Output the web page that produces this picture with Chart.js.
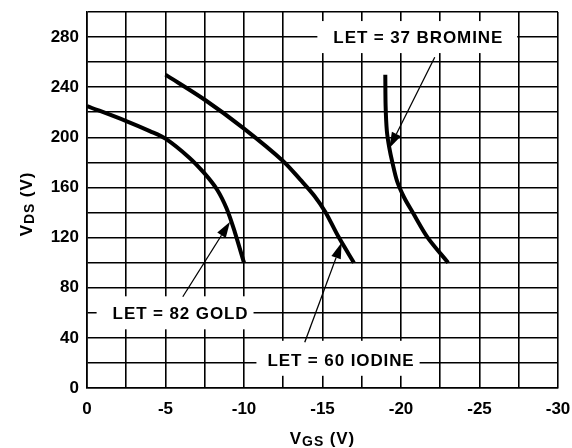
<!DOCTYPE html>
<html>
<head>
<meta charset="utf-8">
<style>
  html, body { margin: 0; padding: 0; background: #fff; }
</style>
</head>
<body>
<canvas id="chart" width="572" height="448"></canvas>
<script src="https://cdn.jsdelivr.net/npm/chart.js@4/dist/chart.umd.min.js"></script>
<script>
// curves: V_GS (x) and V_DS (y)
const goldVgs = [0, -2.5, -4, -5, -6.5, -7.5, -8.3, -8.9, -9.4, -10];
const goldVds = [225, 213, 205, 199, 184, 171, 158, 143, 125, 100];
const iodineVgs = [-5, -7.5, -10, -12.5, -13.6, -14.5, -15.2, -16.0, -17];
const iodineVds = [250, 230, 207, 181, 166, 153, 140, 121, 100];
const bromineVgs = [-19, -19.02, -19.1, -19.25, -19.45, -19.75, -20.2, -20.75, -21.7, -23];
const bromineVds = [250, 225, 205, 192, 180, 165, 152, 140, 120, 100];

const xTickLabels = ['0', '-5', '-10', '-15', '-20', '-25', '-30'];
const yTickLabels = ['0', '40', '80', '120', '160', '200', '240', '280'];

const labelTexts = ['LET = 82 GOLD', 'LET = 60 IODINE', 'LET = 37 BROMINE'];

const font = "'Liberation Sans', Arial, Helvetica, sans-serif";
const spacing = '0.9px';

// where the callouts sit (data coords) and how they look
const notes = [
  { text: labelTexts[0], x: -5.96, y: 60, padL: 16, padR: 5, boxH: 33,
    from: [-6.1, 72.8], to: [-9.11, 132.7] },
  { text: labelTexts[1], x: -16.18, y: 22.5, padL: 11, padR: 5, boxH: 35, boxDy: -1.5,
    from: [-13.87, 36.5], to: [-16.22, 116] },
  { text: labelTexts[2], x: -21.1, y: 280, padL: 16, padR: 14, boxH: 32,
    from: [-22.15, 263.9], to: [-19.25, 191.3] }
];

function pts(xs, ys) {
  return xs.map((x, i) => ({ x: x, y: ys[i] }));
}

function curve(xs, ys) {
  return {
    data: pts(xs, ys),
    borderColor: '#000',
    borderWidth: 4,
    borderCapStyle: 'butt',
    pointRadius: 0,
    tension: 0.3,
    fill: false
  };
}

function arrow(ctx, x1, y1, x2, y2) {
  const a = Math.atan2(y2 - y1, x2 - x1);
  const len = 16, half = 5;
  const bx = x2 - len * Math.cos(a), by = y2 - len * Math.sin(a);
  ctx.beginPath();
  ctx.moveTo(x1, y1);
  ctx.lineTo(bx, by);
  ctx.lineWidth = 1.3;
  ctx.strokeStyle = '#000';
  ctx.stroke();
  ctx.beginPath();
  ctx.moveTo(x2, y2);
  ctx.lineTo(bx + half * Math.sin(a), by - half * Math.cos(a));
  ctx.lineTo(bx - half * Math.sin(a), by + half * Math.cos(a));
  ctx.closePath();
  ctx.fillStyle = '#000';
  ctx.fill();
}

// V + subscript + rest, centred at (cx, baseline)
function subTitle(ctx, main, sub, rest, cx, base) {
  ctx.letterSpacing = spacing;
  ctx.font = 'bold 17px ' + font;
  const w1 = ctx.measureText(main).width;
  const w3 = ctx.measureText(rest).width;
  ctx.font = 'bold 14px ' + font;
  const w2 = ctx.measureText(sub).width;
  let x = cx - (w1 + w2 + w3) / 2;
  ctx.fillStyle = '#000';
  ctx.textAlign = 'left';
  ctx.textBaseline = 'alphabetic';
  ctx.font = 'bold 17px ' + font;
  ctx.fillText(main, x, base);
  x += w1;
  ctx.font = 'bold 14px ' + font;
  ctx.fillText(sub, x, base + 2);
  x += w2;
  ctx.font = 'bold 17px ' + font;
  ctx.fillText(rest, x, base);
}

const callouts = {
  id: 'callouts',
  beforeDatasetsDraw(chart) {
    const ctx = chart.ctx;
    const sx = chart.scales.x, sy = chart.scales.y;
    ctx.save();
    ctx.font = 'bold 17px ' + font;
    ctx.letterSpacing = spacing;
    notes.forEach(n => {
      const cx = sx.getPixelForValue(n.x);
      const cy = sy.getPixelForValue(n.y);
      const w = ctx.measureText(n.text).width;
      const left = cx - w / 2;
      ctx.fillStyle = '#fff';
      ctx.fillRect(left - n.padL, cy - n.boxH / 2 + (n.boxDy || 0), w + n.padL + n.padR, n.boxH);
      ctx.fillStyle = '#000';
      ctx.textAlign = 'left';
      ctx.textBaseline = 'alphabetic';
      ctx.fillText(n.text, left, cy + 6);
    });
    ctx.restore();
  },
  afterDatasetsDraw(chart) {
    const ctx = chart.ctx;
    const sx = chart.scales.x, sy = chart.scales.y;
    ctx.save();
    notes.forEach(n => {
      arrow(ctx,
        sx.getPixelForValue(n.from[0]), sy.getPixelForValue(n.from[1]),
        sx.getPixelForValue(n.to[0]), sy.getPixelForValue(n.to[1]));
    });
    ctx.restore();
  },
  afterDraw(chart) {
    const ctx = chart.ctx;
    const a = chart.chartArea;
    ctx.save();
    subTitle(ctx, 'V', 'GS', ' (V)', (a.left + a.right) / 2, 444);
    ctx.translate(32, (a.top + a.bottom) / 2 + 4);
    ctx.rotate(-Math.PI / 2);
    subTitle(ctx, 'V', 'DS', ' (V)', 0, 0);
    ctx.restore();
  }
};

const tickFont = { family: font, size: 17, weight: 'bold' };

new Chart(document.getElementById('chart'), {
  type: 'line',
  data: {
    datasets: [
      curve(goldVgs, goldVds),
      curve(iodineVgs, iodineVds),
      curve(bromineVgs, bromineVds)
    ]
  },
  options: {
    responsive: false,
    animation: false,
    layout: { padding: { left: 0, top: 12, right: 14, bottom: 0 } },
    plugins: {
      legend: { display: false },
      tooltip: { enabled: false }
    },
    scales: {
      x: {
        type: 'linear',
        reverse: true,
        min: -30,
        max: 0,
        afterFit(scale) {
          scale.height = 60;
          scale.paddingLeft = 0;
          scale.paddingRight = 0;
        },
        ticks: {
          stepSize: 2.5,
          autoSkip: false,
          maxRotation: 0,
          padding: 11,
          color: '#000',
          font: tickFont,
          callback: v => {
            const i = xTickLabels.indexOf(String(v));
            return i >= 0 ? xTickLabels[i] : '';
          }
        },
        grid: { color: '#000', lineWidth: 1.6, drawTicks: false },
        border: { color: '#000', width: 1.6 }
      },
      y: {
        type: 'linear',
        min: 0,
        max: 300,
        afterFit(scale) {
          scale.width = 87;
          scale.paddingTop = 0;
          scale.paddingBottom = 0;
        },
        ticks: {
          stepSize: 20,
          autoSkip: false,
          padding: 8,
          color: '#000',
          font: tickFont,
          callback: v => {
            const i = yTickLabels.indexOf(String(v));
            return i >= 0 ? yTickLabels[i] : '';
          }
        },
        grid: { color: '#000', lineWidth: 1.6, drawTicks: false },
        border: { color: '#000', width: 1.6 }
      }
    }
  },
  plugins: [callouts]
});
</script>
</body>
</html>
